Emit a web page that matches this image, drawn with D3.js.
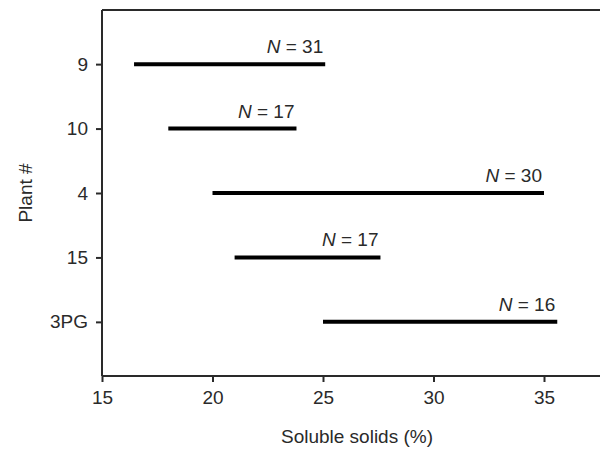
<!DOCTYPE html>
<html>
<head>
<meta charset="utf-8">
<script src="https://cdn.jsdelivr.net/npm/d3@7"></script>
<style>
  body { margin: 0; background: #fff; }
  svg { display: block; font-family: "Liberation Sans", Arial, sans-serif; }
</style>
</head>
<body>
<svg id="chart"></svg>
<script>
// data
var plants = ["9", "10", "4", "15", "3PG"];
var lowVals = [16.45, 18.0, 20.0, 21.0, 25.0];
var highVals = [25.1, 23.8, 35.0, 27.6, 35.6];
var counts = [31, 17, 30, 17, 16];
var xTicks = [15, 20, 25, 30, 35];

var width = 600;
var height = 450;
var plotLeft = 102, plotTop = 10, plotBottom = 376;
var fontSize = "19px";

var svg = d3.select("#chart")
  .attr("width", width)
  .attr("height", height);

var x = d3.scaleLinear().domain([15, 35]).range([plotLeft, 544]);
var y = d3.scalePoint().domain(plants).range([plotTop, plotBottom]).padding(0.84);

var ink = "#2a2a2a";

// frame: top line and bottom axis run off the right edge
svg.append("line")
  .attr("x1", plotLeft).attr("x2", width)
  .attr("y1", plotTop).attr("y2", plotTop)
  .attr("stroke", ink).attr("stroke-width", 2);

var xAxis = svg.append("g")
  .attr("transform", "translate(0," + plotBottom + ")")
  .call(d3.axisBottom(x).tickValues(xTicks).tickSize(6).tickPadding(9).tickSizeOuter(0));
xAxis.select(".domain").attr("d", "M" + plotLeft + ",0H" + width);

var yAxis = svg.append("g")
  .attr("transform", "translate(" + plotLeft + ",0)")
  .call(d3.axisLeft(y).tickSize(6).tickPadding(8).tickSizeOuter(0));
yAxis.select(".domain").attr("d", "M0," + plotTop + "V" + plotBottom);

svg.selectAll(".domain").attr("stroke", ink).attr("stroke-width", 2);
svg.selectAll(".tick line").attr("stroke", ink).attr("stroke-width", 2);
svg.selectAll(".tick text").attr("fill", ink).style("font-size", fontSize);

// range bars
var rows = plants.map((p, i) => ({ p: p, lo: lowVals[i], hi: highVals[i], n: counts[i] }));

svg.append("g").selectAll("line")
  .data(rows)
  .enter()
  .append("line")
  .attr("x1", d => x(d.lo))
  .attr("x2", d => x(d.hi))
  .attr("y1", d => y(d.p))
  .attr("y2", d => y(d.p))
  .attr("stroke", "#000")
  .attr("stroke-width", 4);

// N labels, right aligned at bar end
var lab = svg.append("g").selectAll("text")
  .data(rows)
  .enter()
  .append("text")
  .attr("x", d => x(d.hi) - 2)
  .attr("y", d => y(d.p) - 11)
  .attr("text-anchor", "end")
  .attr("fill", ink)
  .style("font-size", fontSize);
lab.append("tspan").style("font-style", "italic").text("N");
lab.append("tspan").text(d => " = " + d.n);

// axis titles
svg.append("text")
  .attr("x", (plotLeft + 600) / 2 + 6)
  .attr("y", 443)
  .attr("text-anchor", "middle")
  .attr("fill", ink)
  .style("font-size", fontSize)
  .text("Soluble solids (%)");

svg.append("text")
  .attr("transform", "translate(32," + ((plotTop + plotBottom) / 2) + ") rotate(-90)")
  .attr("text-anchor", "middle")
  .attr("fill", ink)
  .style("font-size", fontSize)
  .text("Plant #");
</script>
</body>
</html>
